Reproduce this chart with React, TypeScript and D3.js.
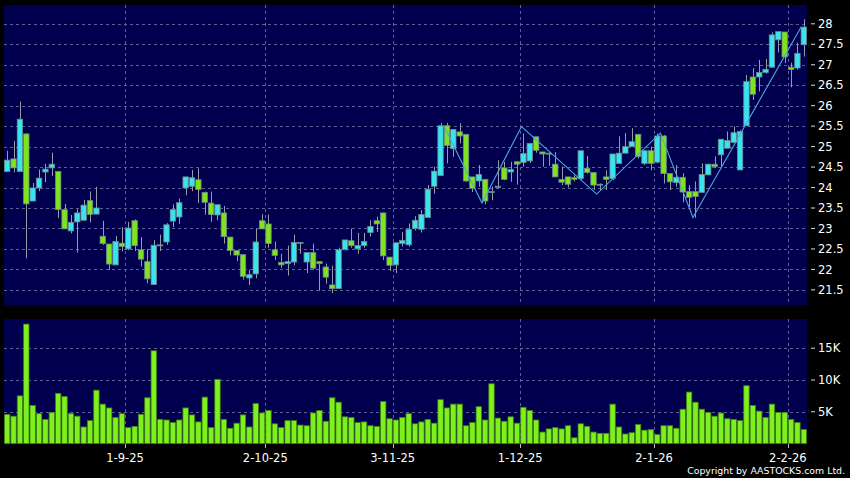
import React from 'react';
import * as d3 from 'd3';

const opens = [24.39,24.70,24.39,25.31,23.67,23.99,24.38,24.48,24.39,23.46,22.94,23.16,23.20,23.68,23.35,22.81,22.62,22.11,22.64,22.50,23.19,22.48,22.19,21.63,22.60,22.67,23.18,23.28,23.99,24.03,24.19,23.88,23.62,23.33,23.38,22.79,22.46,22.36,21.79,21.89,23.19,23.11,22.48,22.17,22.14,22.18,22.66,22.18,22.41,22.19,22.06,21.62,21.53,22.48,22.70,22.50,22.58,22.90,23.19,23.38,22.30,22.11,22.63,22.60,23.00,22.98,23.27,24.03,24.29,25.51,24.95,25.36,25.30,24.26,24.16,24.20,23.90,24.03,24.48,24.38,24.63,24.61,24.65,25.24,24.87,24.84,24.57,24.20,24.26,24.24,24.22,24.47,24.37,24.08,24.26,24.22,24.59,24.84,25.00,25.30,24.59,24.90,24.62,25.26,24.34,24.12,24.25,23.90,23.90,23.88,24.31,24.57,24.80,24.96,25.10,24.43,25.51,26.70,26.70,26.81,26.94,27.61,27.80,26.94,26.92,27.49];
const highs = [24.90,25.14,26.10,25.33,24.11,24.44,24.58,24.85,24.40,23.60,23.33,23.47,23.70,23.90,24.02,23.19,22.62,22.82,23.03,23.16,23.22,22.79,22.50,22.72,22.85,23.13,23.59,23.73,24.26,24.43,24.47,23.90,23.90,23.58,23.55,22.79,22.46,22.36,21.99,22.99,23.35,23.34,22.68,22.38,22.58,22.85,22.66,22.41,22.63,22.19,22.14,22.09,22.53,22.72,23.00,22.89,22.89,23.20,23.29,23.38,22.30,22.65,22.91,23.12,23.30,23.45,24.06,24.51,25.58,25.58,25.42,25.57,25.30,24.26,24.55,24.20,24.02,24.67,24.63,24.63,24.63,25.32,25.08,25.24,24.87,24.86,24.87,24.51,24.26,24.30,24.90,24.77,24.37,24.10,24.42,24.82,25.25,25.33,25.45,25.30,24.90,25.00,25.32,25.28,24.34,24.55,24.35,24.06,24.15,24.59,24.58,24.76,25.18,25.37,25.49,25.40,26.75,26.92,27.12,27.14,27.79,27.81,27.80,27.05,27.54,28.11];
const lows = [24.38,24.37,24.39,22.27,23.67,23.91,24.13,24.29,23.25,22.99,22.88,22.41,23.20,23.15,23.35,22.60,21.99,22.11,22.44,22.47,22.45,22.07,21.66,21.63,22.45,22.60,23.03,23.11,23.81,23.91,23.62,23.34,23.16,23.20,22.63,22.34,22.20,21.75,21.62,21.78,22.99,22.53,22.23,22.04,21.85,22.10,22.38,21.91,21.99,21.48,21.65,21.42,21.53,22.48,22.53,22.38,22.53,22.80,22.91,22.23,21.96,21.91,22.56,22.55,22.95,22.90,23.27,23.85,24.29,24.59,24.75,25.08,24.14,23.89,24.02,23.59,23.69,23.98,24.18,24.14,24.07,24.51,24.60,24.85,24.51,24.53,24.26,24.06,24.00,24.15,24.18,24.34,23.94,23.94,23.94,24.18,24.59,24.84,25.00,24.71,24.55,24.42,24.59,24.10,23.94,24.02,23.64,23.53,23.26,23.88,24.31,24.47,24.51,24.96,25.10,24.43,25.51,26.14,26.35,26.78,26.94,27.30,27.04,26.45,26.88,27.20];
const closes = [24.67,24.48,25.67,23.60,23.99,24.23,24.45,24.57,23.46,22.99,23.15,23.38,23.57,23.34,23.50,22.63,22.13,22.68,22.56,23.01,22.58,22.25,21.77,22.59,22.60,23.09,23.46,23.63,24.26,24.24,23.95,23.64,23.34,23.58,22.80,22.46,22.35,21.83,21.87,22.67,22.99,22.63,22.34,22.11,22.19,22.66,22.66,22.41,22.03,22.14,21.81,21.53,22.48,22.72,22.58,22.58,22.68,23.05,23.11,22.33,22.10,22.65,22.71,22.98,23.20,23.34,23.96,24.40,25.51,25.03,25.42,25.26,24.16,23.98,24.32,23.67,23.90,24.03,24.20,24.44,24.57,24.83,25.08,24.91,24.82,24.82,24.26,24.13,24.08,24.20,24.90,24.37,24.06,24.06,24.20,24.82,24.84,25.00,25.12,24.76,24.90,24.59,25.26,24.34,24.14,24.25,23.89,23.76,23.78,24.32,24.57,24.51,25.18,25.15,25.34,25.37,26.59,26.28,26.81,26.89,27.73,27.81,27.19,26.88,27.28,27.92];
const volumes = [4.6,4.3,7.5,18.8,6.0,4.7,3.8,4.9,7.9,7.4,4.7,4.3,2.6,3.6,8.4,6.2,5.6,4.1,4.7,2.5,2.7,4.6,7.2,14.6,3.8,3.7,3.3,3.7,5.6,4.5,3.4,7.3,2.5,10.1,3.8,2.4,3.2,4.5,2.6,6.3,4.8,5.2,3.1,2.5,3.6,3.6,2.9,2.8,4.8,5.2,3.5,7.2,6.5,4.2,4.1,3.3,3.4,2.8,2.7,6.6,3.9,3.7,4.1,4.7,3.1,3.4,3.8,3.2,6.9,5.6,6.2,6.2,2.8,3.3,5.8,3.7,9.4,4.0,3.5,4.2,3.2,5.7,5.2,3.7,1.8,2.3,2.5,2.3,2.8,0.9,3.1,2.7,1.8,1.6,1.6,6.2,2.6,1.5,1.7,3.0,2.1,2.2,1.4,2.8,2.8,2.4,5.4,8.1,6.5,5.4,4.9,4.3,4.8,3.9,3.8,3.6,9.1,6.0,5.1,4.1,6.2,4.9,4.9,3.8,3.3,2.2];
const dateLabels = ['1-9-25', '2-10-25', '3-11-25', '1-12-25', '2-1-26', '2-2-26'];
const dateIndex = [19, 41, 61, 81, 102, 123];
const priceTicks = [21.5, 22, 22.5, 23, 23.5, 24, 24.5, 25, 25.5, 26, 26.5, 27, 27.5, 28];
const volumeTicks = [5, 10, 15];
const volumeTickLabels = ['5K', '10K', '15K'];
const zigzagIdx = [68.6, 74.5, 80.7, 92.5, 102.5, 107.6, 124.6];
const zigzagPrice = [25.48, 23.62, 25.49, 23.84, 25.33, 23.27, 27.93];

const FONT = 'DejaVu Sans, sans-serif';

export default function App() {
  const n = opens.length;
  const left = 4, right = 807;
  const xc = d3.scaleLinear().domain([-0.5, n - 0.5]).range([left, right]);
  const step = xc(1) - xc(0);
  const bw = 5.4;
  const mainTop = 5, mainBottom = 305;
  const volTop = 319, volBottom = 444;
  const y = d3.scaleLinear().domain([21.13, 28.46]).range([mainBottom, mainTop]);
  const yv = d3.scaleLinear().domain([0, 19.6]).range([443.5, volTop]);
  const grid = '#5f5f95';
  const zig = d3.line<number>().x((i) => xc(zigzagIdx[i])).y((i) => y(zigzagPrice[i]));

  return (
    <svg width={850} height={478} style={{ position: 'absolute', left: 0, top: 0, display: 'block' }}>
      <rect x={0} y={0} width={850} height={478} fill="#000" />
      <rect x={left} y={mainTop} width={right - left} height={mainBottom - mainTop} fill="#00004e" />
      <rect x={left} y={volTop} width={right - left} height={volBottom - volTop} fill="#00004e" />
      {priceTicks.map((p) => (
        <line key={'hg' + p} x1={left} x2={right} y1={Math.round(y(p)) + 0.5} y2={Math.round(y(p)) + 0.5} stroke={grid} strokeDasharray="3,3" />
      ))}
      {volumeTicks.map((v) => (
        <line key={'vg' + v} x1={left} x2={right} y1={Math.round(yv(v)) + 0.5} y2={Math.round(yv(v)) + 0.5} stroke={grid} strokeDasharray="3,3" />
      ))}
      {dateIndex.map((di) => {
        const gx = Math.round(xc(di - 0.5)) + 0.5;
        return (
          <g key={'dg' + di}>
            <line x1={gx} x2={gx} y1={mainTop} y2={mainBottom} stroke={grid} strokeDasharray="3,3" />
            <line x1={gx} x2={gx} y1={volTop} y2={volBottom} stroke={grid} strokeDasharray="3,3" />
            <line x1={gx} x2={gx} y1={volBottom} y2={volBottom + 4} stroke="#bbb" />
          </g>
        );
      })}
      {volumes.map((v, i) => (
        <rect key={'v' + i} x={xc(i) - bw / 2} y={yv(v)} width={bw} height={yv(0) - yv(v)} fill="#7ef01e" stroke="#3f7f12" strokeWidth={0.8} />
      ))}
      {opens.map((o, i) => {
        const c = closes[i];
        const up = c >= o;
        const top = y(Math.max(o, c));
        const bot = y(Math.min(o, c));
        const cx = Math.round(xc(i)) + 0.5;
        return (
          <g key={'c' + i}>
            <line x1={cx} x2={cx} y1={y(highs[i])} y2={y(lows[i])} stroke="#9a9aa6" strokeWidth={1} />
            <rect x={xc(i) - bw / 2} y={top} width={bw} height={Math.max(bot - top, 1)} fill={up ? '#3ae4ee' : '#7fe41e'} stroke="#6a8a8a" strokeWidth={0.8} />
          </g>
        );
      })}
      <path d={zig(d3.range(zigzagIdx.length)) || ''} fill="none" stroke="#4aa6e6" strokeWidth={1.1} />
      {priceTicks.map((p) => (
        <g key={'pt' + p}>
          <line x1={811} x2={815} y1={y(p)} y2={y(p)} stroke="#ddd" />
          <text x={818} y={y(p)} dy="0.36em" fill="#fff" fontFamily={FONT} fontSize={11.5}>{String(p)}</text>
        </g>
      ))}
      {volumeTicks.map((v, k) => (
        <g key={'vt' + v}>
          <line x1={811} x2={815} y1={yv(v)} y2={yv(v)} stroke="#ddd" />
          <text x={818} y={yv(v)} dy="0.36em" fill="#fff" fontFamily={FONT} fontSize={11.5}>{volumeTickLabels[k]}</text>
        </g>
      ))}
      {dateIndex.map((di, k) => (
        <text key={'dl' + di} x={xc(di - 0.5)} y={461.5} textAnchor="middle" fill="#fff" fontFamily={FONT} fontSize={11.5}>{dateLabels[k]}</text>
      ))}
      <text x={845} y={474} textAnchor="end" fill="#fff" fontFamily={FONT} fontSize={9.4}>Copyright by AASTOCKS.com Ltd.</text>
    </svg>
  );
}
